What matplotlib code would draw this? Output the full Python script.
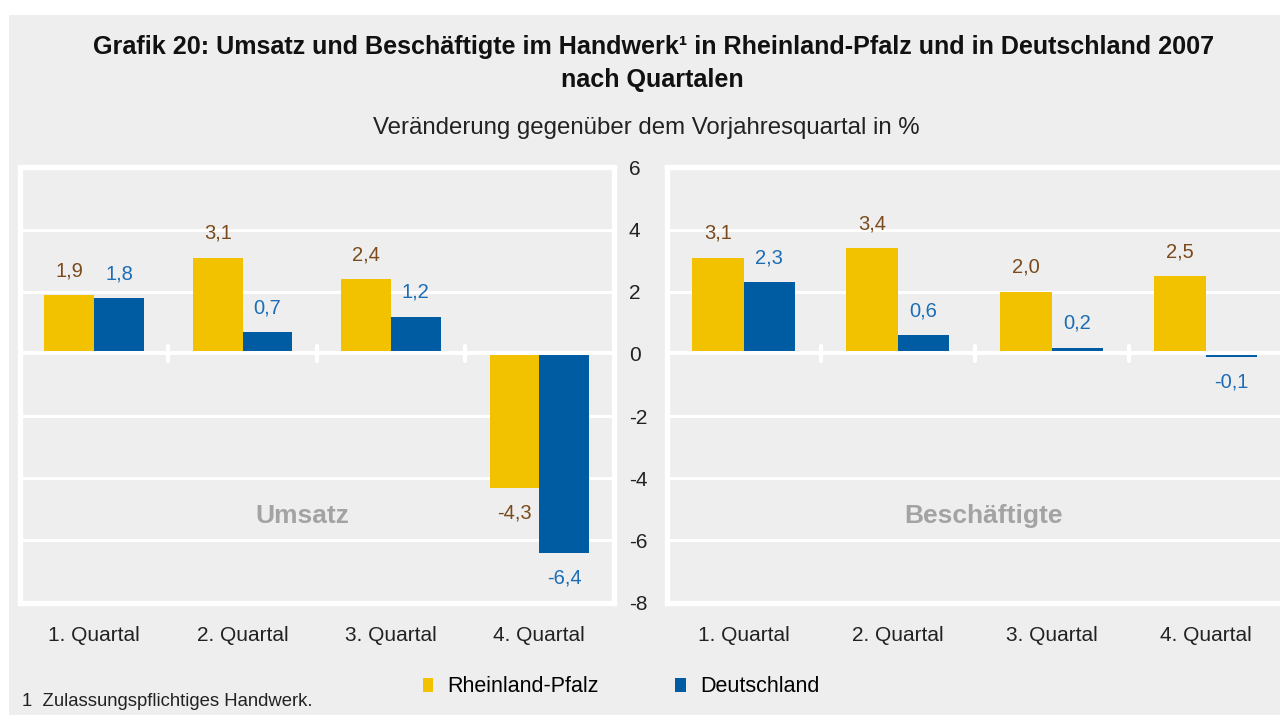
import matplotlib
matplotlib.use("Agg")
import matplotlib.pyplot as plt
import numpy as np
from matplotlib.patches import Rectangle

plt.rcParams["font.family"] = ["Liberation Sans", "DejaVu Sans"]

quarters = ["1. Quartal", "2. Quartal", "3. Quartal", "4. Quartal"]
umsatz_rp = [1.9, 3.1, 2.4, -4.3]
umsatz_de = [1.8, 0.7, 1.2, -6.4]
besch_rp = [3.1, 3.4, 2.0, 2.5]
besch_de = [2.3, 0.6, 0.2, -0.1]
yticks = [-8, -6, -4, -2, 0, 2, 4, 6]

YELLOW = "#f2c100"
BLUE = "#005ca2"
LBL_RP = "#7a4a1c"
LBL_DE = "#1c6db5"
BG = "#edeeed"

W, H = 1280, 715
fig = plt.figure(figsize=(W / 100, H / 100), dpi=100, facecolor="white")
fig.patches.append(Rectangle((9 / W, 0), 1, 1 - 15 / H, transform=fig.transFigure,
                             facecolor=BG, edgecolor="none", zorder=-10))


def px(x0, y0, x1, y1):
    # pixel box (top-left origin) -> figure fraction
    return [x0 / W, 1 - y1 / H, (x1 - x0) / W, (y1 - y0) / H]


ax1 = fig.add_axes(px(20, 167.5, 613.5, 602.5))
ax2 = fig.add_axes(px(666.5, 167.5, 1282.5, 602.5))

x = np.arange(len(quarters))
bw = 0.335


def draw(ax, rp, de, name, name_x):
    ax.set_facecolor(BG)
    b1 = ax.bar(x - bw / 2, rp, bw, color=YELLOW, label="Rheinland-Pfalz", zorder=2)
    b2 = ax.bar(x + bw / 2, de, bw, color=BLUE, label="Deutschland", zorder=2)
    for bars, vals, col in ((b1, rp, LBL_RP), (b2, de, LBL_DE)):
        for b, v in zip(bars, vals):
            off = 17.5 if v >= 0 else -18
            ax.annotate(f"{v:.1f}".replace(".", ","),
                        (b.get_x() + b.get_width() / 2, v),
                        xytext=(0, off), textcoords="offset points",
                        ha="center", va="center", fontsize=14.5, color=col)
    ax.set_xlim(-0.5, 3.5)
    ax.set_ylim(-8, 6)
    ax.set_yticks(yticks)
    for g in [-6, -4, -2, 2, 4]:
        ax.axhline(g, color="white", lw=2.2, zorder=1)
    ax.axhline(0.035, color="white", lw=2.9, zorder=3)
    ax.vlines([0.5, 1.5, 2.5], -0.24, 0.26, color="white", lw=3,
              capstyle="round", zorder=3)
    for s in ax.spines.values():
        s.set_color("white")
        s.set_linewidth(3.8)
    ax.set_xticks(x)
    ax.set_xticklabels(quarters, fontsize=15, color="#222222")
    ax.tick_params(axis="x", length=0, pad=17)
    ax.text(name_x, 0.199, name, transform=ax.transAxes, ha="center", va="center",
            fontsize=19, fontweight="bold", color="#a3a3a3")
    return b1, b2


draw(ax1, umsatz_rp, umsatz_de, "Umsatz", 0.475)
h1, h2 = draw(ax2, besch_rp, besch_de, "Beschäftigte", 0.514)

ax1.yaxis.tick_right()
ax1.set_yticklabels([str(t) for t in yticks], fontsize=15, color="#222222", ha="left")
ax1.tick_params(axis="y", length=0, pad=11)
ax2.tick_params(axis="y", length=0, labelleft=False)

fig.text(654 / W, 1 - 47 / H,
         "Grafik 20: Umsatz und Beschäftigte im Handwerk¹ in Rheinland-Pfalz und in Deutschland 2007",
         ha="center", va="center", fontsize=18.1, fontweight="bold", color="#111111")
fig.text(652 / W, 1 - 80 / H, "nach Quartalen", ha="center", va="center",
         fontsize=18.1, fontweight="bold", color="#111111")
fig.text(646 / W, 1 - 128 / H, "Veränderung gegenüber dem Vorjahresquartal in %",
         ha="center", va="center", fontsize=17.3, color="#222222")
fig.text(22 / W, 1 - 702 / H, "1  Zulassungspflichtiges Handwerk.",
         ha="left", va="center", fontsize=13.3, color="#222222")

fig.legend([h1, h2], ["Rheinland-Pfalz", "Deutschland"], loc="center",
           bbox_to_anchor=(621 / W, 1 - 687 / H), ncol=2, frameon=False,
           fontsize=15.5, handlelength=0.5, handleheight=0.6, handletextpad=0.65,
           columnspacing=3.55)

fig.savefig("out.png", dpi=100, facecolor=fig.get_facecolor())
